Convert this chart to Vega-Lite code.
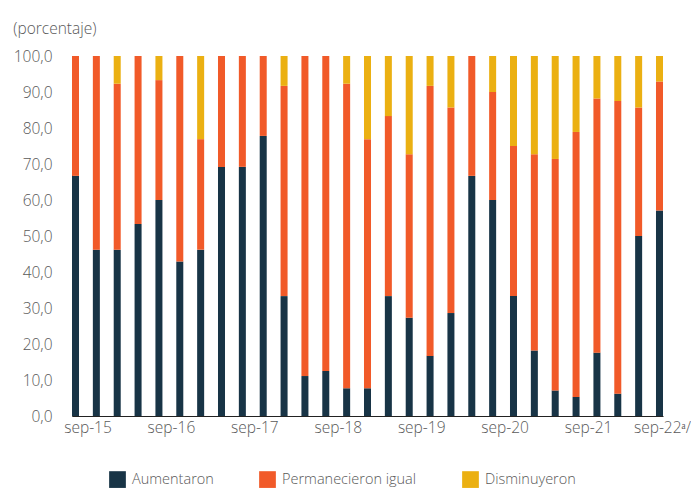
{
  "$schema": "https://vega.github.io/schema/vega-lite/v6.json",
  "width": 591,
  "height": 360,
  "autosize": {"type": "none"},
  "padding": {"left": 72, "top": 56, "right": 28, "bottom": 72},
  "background": "white",
  "config": {
    "view": {"stroke": null},
    "font": "Open Sans"
  },
  "title": {
    "text": "(porcentaje)",
    "anchor": "start",
    "frame": "bounds",
    "font": "Open Sans",
    "fontSize": 15.5,
    "fontWeight": 300,
    "color": "#595959",
    "offset": 11.5
  },
  "data": {
    "values": [
      {"t":"sep-15","s":"Aumentaron","o":1,"v":66.7},{"t":"sep-15","s":"Permanecieron igual","o":2,"v":33.3},{"t":"sep-15","s":"Disminuyeron","o":3,"v":0},
      {"t":"dic-15","s":"Aumentaron","o":1,"v":46.2},{"t":"dic-15","s":"Permanecieron igual","o":2,"v":53.8},{"t":"dic-15","s":"Disminuyeron","o":3,"v":0},
      {"t":"mar-16","s":"Aumentaron","o":1,"v":46.2},{"t":"mar-16","s":"Permanecieron igual","o":2,"v":46.1},{"t":"mar-16","s":"Disminuyeron","o":3,"v":7.7},
      {"t":"jun-16","s":"Aumentaron","o":1,"v":53.3},{"t":"jun-16","s":"Permanecieron igual","o":2,"v":46.7},{"t":"jun-16","s":"Disminuyeron","o":3,"v":0},
      {"t":"sep-16","s":"Aumentaron","o":1,"v":60.0},{"t":"sep-16","s":"Permanecieron igual","o":2,"v":33.3},{"t":"sep-16","s":"Disminuyeron","o":3,"v":6.7},
      {"t":"dic-16","s":"Aumentaron","o":1,"v":42.9},{"t":"dic-16","s":"Permanecieron igual","o":2,"v":57.1},{"t":"dic-16","s":"Disminuyeron","o":3,"v":0},
      {"t":"mar-17","s":"Aumentaron","o":1,"v":46.2},{"t":"mar-17","s":"Permanecieron igual","o":2,"v":30.7},{"t":"mar-17","s":"Disminuyeron","o":3,"v":23.1},
      {"t":"jun-17","s":"Aumentaron","o":1,"v":69.2},{"t":"jun-17","s":"Permanecieron igual","o":2,"v":30.8},{"t":"jun-17","s":"Disminuyeron","o":3,"v":0},
      {"t":"sep-17","s":"Aumentaron","o":1,"v":69.2},{"t":"sep-17","s":"Permanecieron igual","o":2,"v":30.8},{"t":"sep-17","s":"Disminuyeron","o":3,"v":0},
      {"t":"dic-17","s":"Aumentaron","o":1,"v":77.8},{"t":"dic-17","s":"Permanecieron igual","o":2,"v":22.2},{"t":"dic-17","s":"Disminuyeron","o":3,"v":0},
      {"t":"mar-18","s":"Aumentaron","o":1,"v":33.3},{"t":"mar-18","s":"Permanecieron igual","o":2,"v":58.4},{"t":"mar-18","s":"Disminuyeron","o":3,"v":8.3},
      {"t":"jun-18","s":"Aumentaron","o":1,"v":11.1},{"t":"jun-18","s":"Permanecieron igual","o":2,"v":88.9},{"t":"jun-18","s":"Disminuyeron","o":3,"v":0},
      {"t":"sep-18","s":"Aumentaron","o":1,"v":12.5},{"t":"sep-18","s":"Permanecieron igual","o":2,"v":87.5},{"t":"sep-18","s":"Disminuyeron","o":3,"v":0},
      {"t":"dic-18","s":"Aumentaron","o":1,"v":7.7},{"t":"dic-18","s":"Permanecieron igual","o":2,"v":84.6},{"t":"dic-18","s":"Disminuyeron","o":3,"v":7.7},
      {"t":"mar-19","s":"Aumentaron","o":1,"v":7.7},{"t":"mar-19","s":"Permanecieron igual","o":2,"v":69.2},{"t":"mar-19","s":"Disminuyeron","o":3,"v":23.1},
      {"t":"jun-19","s":"Aumentaron","o":1,"v":33.3},{"t":"jun-19","s":"Permanecieron igual","o":2,"v":50.0},{"t":"jun-19","s":"Disminuyeron","o":3,"v":16.7},
      {"t":"sep-19","s":"Aumentaron","o":1,"v":27.3},{"t":"sep-19","s":"Permanecieron igual","o":2,"v":45.4},{"t":"sep-19","s":"Disminuyeron","o":3,"v":27.3},
      {"t":"dic-19","s":"Aumentaron","o":1,"v":16.7},{"t":"dic-19","s":"Permanecieron igual","o":2,"v":75.0},{"t":"dic-19","s":"Disminuyeron","o":3,"v":8.3},
      {"t":"mar-20","s":"Aumentaron","o":1,"v":28.6},{"t":"mar-20","s":"Permanecieron igual","o":2,"v":57.1},{"t":"mar-20","s":"Disminuyeron","o":3,"v":14.3},
      {"t":"jun-20","s":"Aumentaron","o":1,"v":66.7},{"t":"jun-20","s":"Permanecieron igual","o":2,"v":33.3},{"t":"jun-20","s":"Disminuyeron","o":3,"v":0},
      {"t":"sep-20","s":"Aumentaron","o":1,"v":60.0},{"t":"sep-20","s":"Permanecieron igual","o":2,"v":30.0},{"t":"sep-20","s":"Disminuyeron","o":3,"v":10.0},
      {"t":"dic-20","s":"Aumentaron","o":1,"v":33.3},{"t":"dic-20","s":"Permanecieron igual","o":2,"v":41.7},{"t":"dic-20","s":"Disminuyeron","o":3,"v":25.0},
      {"t":"mar-21","s":"Aumentaron","o":1,"v":18.2},{"t":"mar-21","s":"Permanecieron igual","o":2,"v":54.5},{"t":"mar-21","s":"Disminuyeron","o":3,"v":27.3},
      {"t":"jun-21","s":"Aumentaron","o":1,"v":7.1},{"t":"jun-21","s":"Permanecieron igual","o":2,"v":64.3},{"t":"jun-21","s":"Disminuyeron","o":3,"v":28.6},
      {"t":"sep-21","s":"Aumentaron","o":1,"v":5.3},{"t":"sep-21","s":"Permanecieron igual","o":2,"v":73.6},{"t":"sep-21","s":"Disminuyeron","o":3,"v":21.1},
      {"t":"dic-21","s":"Aumentaron","o":1,"v":17.6},{"t":"dic-21","s":"Permanecieron igual","o":2,"v":70.6},{"t":"dic-21","s":"Disminuyeron","o":3,"v":11.8},
      {"t":"mar-22","s":"Aumentaron","o":1,"v":6.2},{"t":"mar-22","s":"Permanecieron igual","o":2,"v":81.3},{"t":"mar-22","s":"Disminuyeron","o":3,"v":12.5},
      {"t":"jun-22","s":"Aumentaron","o":1,"v":50.0},{"t":"jun-22","s":"Permanecieron igual","o":2,"v":35.7},{"t":"jun-22","s":"Disminuyeron","o":3,"v":14.3},
      {"t":"sep-22","s":"Aumentaron","o":1,"v":57.1},{"t":"sep-22","s":"Permanecieron igual","o":2,"v":35.8},{"t":"sep-22","s":"Disminuyeron","o":3,"v":7.1}
    ]
  },
  "mark": {"type": "bar"},
  "encoding": {
    "x": {
      "field": "t",
      "type": "nominal",
      "sort": null,
      "scale": {"paddingInner": 0.664, "paddingOuter": 0},
      "axis": {
        "title": null,
        "labelAngle": 0,
        "ticks": false,
        "domainColor": "#222222",
        "domainWidth": 1,
        "labelPadding": 4,
        "labelFont": "Open Sans",
        "labelFontSize": 15.5,
        "labelFontWeight": 300,
        "labelColor": "#595959",
        "labelOverlap": false,
        "labelOffset": {"condition": {"test": "datum.value == 'sep-22'", "value": 3}, "value": 12.5},
        "labelExpr": "datum.value == 'sep-22' ? 'sep-22ᵃ/' : (indexof(datum.value, 'sep') == 0 ? datum.value : '')"
      }
    },
    "y": {
      "field": "v",
      "type": "quantitative",
      "stack": "zero",
      "scale": {"domain": [0, 100], "nice": false},
      "axis": {
        "title": null,
        "grid": false,
        "ticks": false,
        "values": [0, 10, 20, 30, 40, 50, 60, 70, 80, 90, 100],
        "domainColor": "#222222",
        "domainWidth": 1,
        "labelPadding": 20,
        "labelFont": "Open Sans",
        "labelFontSize": 15.5,
        "labelFontWeight": 300,
        "labelColor": "#595959",
        "labelExpr": "replace(format(datum.value, '.1f'), '.', ',')"
      }
    },
    "order": {"field": "o", "type": "quantitative", "sort": "ascending"},
    "color": {
      "field": "s",
      "type": "nominal",
      "scale": {
        "domain": ["Aumentaron", "Permanecieron igual", "Disminuyeron"],
        "range": ["#183446", "#F15A29", "#EBB012"]
      },
      "legend": {
        "title": null,
        "orient": "none",
        "direction": "horizontal",
        "legendX": 37,
        "legendY": 415,
        "padding": 0,
        "symbolType": "square",
        "symbolSize": 280,
        "symbolStrokeWidth": 0,
        "symbolOpacity": 1,
        "labelFont": "Open Sans",
        "labelFontSize": 14.5,
        "labelFontWeight": 300,
        "labelColor": "#595959",
        "labelOffset": 6,
        "columnPadding": 45
      }
    }
  }
}
